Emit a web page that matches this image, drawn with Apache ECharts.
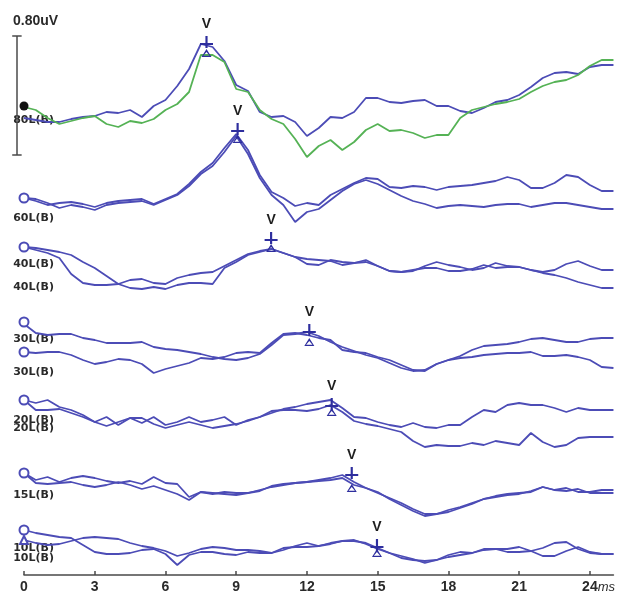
<!DOCTYPE html>
<html>
<head>
<meta charset="utf-8">
<title>ABR</title>
<script src="https://cdn.jsdelivr.net/npm/echarts@6/dist/echarts.min.js"></script>
<style>
  html, body { margin: 0; padding: 0; background: #fff; }
  #chart { width: 618px; height: 595px; }
</style>
</head>
<body>
<div id="chart"></div>
<script>
// time base (ms), one reading every 0.5 ms
const times = [0, 0.5, 1, 1.5, 2, 2.5, 3, 3.5, 4, 4.5, 5, 5.5, 6, 6.5, 7, 7.5, 8, 8.5, 9, 9.5,
  10, 10.5, 11, 11.5, 12, 12.5, 13, 13.5, 14, 14.5, 15, 15.5, 16, 16.5, 17, 17.5, 18, 18.5, 19, 19.5,
  20, 20.5, 21, 21.5, 22, 22.5, 23, 23.5, 24, 24.5, 25]

// trace readings on the display scale (downward), one list per sweep
const trace80Blue = [118, 120, 122, 122, 119, 117, 116, 112, 113, 110,
  117, 106, 100, 86, 69, 44, 47, 61, 85, 91,
  112, 117, 116, 122, 136, 128, 117, 118, 112, 98,
  98, 102, 103, 101, 100, 106, 106, 111, 113, 108,
  102, 100, 95, 87, 78, 73, 72, 74, 67, 65, 65]
const trace80Green = [107, 110, 118, 124, 121, 118, 116, 124, 127, 121,
  123, 119, 110, 104, 92, 55, 55, 62, 89, 92,
  110, 119, 124, 139, 157, 146, 140, 150, 142, 130,
  124, 131, 130, 133, 138, 135, 135, 118, 110, 107,
  104, 102, 99, 92, 86, 82, 80, 75, 66, 60, 60]
const trace60A = [198, 201, 205, 203, 202, 204, 207, 203, 201, 200,
  199, 204, 199, 194, 184, 172, 163, 148, 134, 150,
  175, 192, 198, 206, 203, 205, 195, 189, 183, 178,
  179, 187, 188, 186, 187, 190, 187, 186, 185, 183,
  181, 177, 180, 188, 188, 183, 175, 177, 185, 191, 191]
const trace60B = [198, 199, 203, 208, 205, 207, 210, 205, 203, 202,
  201, 205, 200, 195, 186, 174, 166, 152, 136, 154,
  178, 195, 205, 222, 212, 209, 200, 191, 184, 180,
  184, 190, 196, 201, 204, 208, 206, 205, 206, 207,
  205, 204, 204, 207, 205, 203, 203, 205, 207, 209, 209]
const trace40A = [247, 248, 250, 252, 255, 262, 268, 276, 284, 280,
  279, 283, 284, 278, 275, 273, 272, 266, 260, 254,
  251, 249, 253, 257, 264, 265, 260, 262, 263, 260,
  266, 271, 272, 271, 266, 262, 265, 267, 270, 268,
  263, 266, 267, 270, 272, 270, 264, 261, 266, 270, 270]
const trace40B = [247, 250, 253, 258, 274, 283, 285, 285, 284, 288,
  289, 287, 289, 285, 283, 283, 284, 268, 262, 255,
  252, 249, 253, 257, 259, 260, 261, 265, 263, 262,
  266, 271, 272, 270, 268, 268, 271, 271, 269, 265,
  268, 267, 267, 270, 273, 275, 278, 282, 285, 288, 288]
const trace30A = [324, 333, 335, 334, 334, 338, 340, 343, 343, 343,
  342, 347, 349, 350, 352, 354, 357, 359, 360, 358,
  354, 345, 335, 334, 332, 336, 342, 347, 351, 355,
  358, 363, 368, 371, 370, 364, 360, 356, 350, 346,
  345, 344, 342, 339, 338, 340, 342, 342, 339, 338, 338]
const trace30B = [352, 353, 352, 352, 355, 360, 364, 362, 359, 360,
  364, 373, 369, 366, 363, 358, 359, 357, 353, 352,
  353, 343, 334, 333, 335, 338, 340, 350, 352, 353,
  357, 360, 365, 370, 371, 364, 360, 358, 357, 355,
  354, 353, 353, 352, 356, 356, 355, 357, 360, 367, 368]
const trace20A = [400, 403, 400, 407, 410, 415, 422, 417, 425, 418,
  423, 417, 425, 422, 417, 422, 420, 417, 425, 420,
  417, 413, 409, 407, 404, 402, 400, 408, 417, 418,
  422, 425, 427, 423, 427, 428, 425, 425, 417, 410,
  412, 405, 403, 405, 405, 408, 412, 408, 410, 410, 410]
const trace20B = [400, 410, 410, 409, 413, 417, 422, 426, 422, 418,
  418, 424, 428, 425, 422, 425, 428, 426, 424, 421,
  417, 411, 410, 410, 411, 409, 405, 412, 421, 424,
  426, 429, 432, 441, 447, 445, 446, 446, 443, 445,
  441, 443, 445, 433, 442, 447, 445, 438, 437, 437, 437]
const trace15A = [473, 480, 477, 482, 478, 476, 478, 481, 483, 481,
  484, 477, 483, 484, 497, 492, 494, 492, 493, 493,
  491, 486, 484, 483, 482, 480, 478, 475, 482, 488,
  493, 498, 503, 509, 514, 514, 510, 507, 503, 499,
  497, 495, 494, 491, 487, 490, 488, 492, 492, 490, 490]
const trace15B = [473, 483, 484, 483, 482, 485, 487, 485, 482, 485,
  489, 486, 490, 494, 500, 492, 493, 494, 495, 493,
  490, 487, 485, 483, 482, 481, 480, 478, 485, 488,
  492, 499, 505, 511, 516, 514, 512, 508, 504, 499,
  496, 494, 493, 492, 487, 490, 491, 489, 493, 493, 493]
const trace10A = [530, 533, 535, 537, 538, 545, 552, 554, 554, 553,
  550, 549, 554, 565, 555, 552, 552, 554, 555, 552,
  553, 553, 548, 547, 547, 546, 543, 541, 541, 543,
  548, 553, 558, 560, 561, 560, 557, 555, 553, 550,
  549, 552, 552, 551, 548, 543, 542, 549, 553, 554, 554]
const trace10B = [540, 543, 545, 544, 541, 538, 537, 538, 539, 543,
  546, 548, 551, 556, 553, 549, 547, 548, 550, 550,
  551, 553, 550, 546, 543, 546, 544, 541, 540, 544,
  549, 553, 556, 559, 563, 560, 555, 552, 553, 549,
  549, 549, 547, 551, 556, 556, 551, 547, 552, 554, 554]

// wave V picks: latency (ms), level of the cursor on each sweep
const waveVLatency = [7.74, 9.06, 10.48, 12.1, 13.05, 13.9, 14.97]
const waveVCursorA = [42, 129, 238, 330, 404, 473, 545]
const waveVCursorB = [53, 139, 248, 342, 412, 488, 553]

// sweep labels and where they sit
const sweepLabels = ['80L(B)', '60L(B)', '40L(B)', '40L(B)', '30L(B)', '30L(B)', '20L(B)', '20L(B)', '15L(B)', '10L(B)', '10L(B)']
const sweepLabelLevel = [120, 218, 264, 287, 339, 372, 420, 428, 495, 548, 558]

// start-of-sweep markers
const startCircles = [198, 247, 322, 352, 400, 473, 530]
const startTriangles = [540]
const startDot = [106]

const tickValues = [0, 3, 6, 9, 12, 15, 18, 21, 24]
const tickUnit = 'ms'

// 0.80uV calibration bar
const calibLabel = '0.80uV'
const calibTop = 36
const calibBottom = 155

const blue = '#4c4cb6'
const green = '#55b255'
const dark = '#2a2a2a'

const chart = echarts.init(document.getElementById('chart'))

const traceSeries = (values, color, z) => ({
  type: 'line',
  data: times.map((t, i) => [t, values[i]]),
  symbol: 'none',
  showSymbol: false,
  clip: false,
  z: z || 2,
  lineStyle: { color: color, width: 1.8 }
})

const blueTraces = [trace80Blue, trace60A, trace60B, trace40A, trace40B, trace30A, trace30B,
  trace20A, trace20B, trace15A, trace15B, trace10A, trace10B]

const plusPath = 'path://M5,0h2v12h-2z M0,7h12v2h-12z'
const trianglePath = 'path://M6,0 L12,9 L0,9 Z M6,3.5 L2.2,7.6 L9.8,7.6 Z'

const option = {
  animation: false,
  textStyle: { fontFamily: 'Liberation Sans' },
  grid: { left: 24, right: 2, top: 0, bottom: 20 },
  xAxis: {
    type: 'value',
    position: 'bottom',
    min: 0,
    max: 25,
    interval: 3,
    splitLine: { show: false },
    axisLine: { onZero: false, lineStyle: { color: '#4a4a4a', width: 1.5 } },
    axisTick: { inside: true, length: 4, customValues: tickValues, lineStyle: { color: '#4a4a4a', width: 1.5 } },
    axisLabel: {
      customValues: tickValues,
      margin: 5,
      fontSize: 14,
      fontWeight: 'bold',
      color: dark,
      formatter: (v) => v === 24 ? '{pad|' + tickUnit + '}' + v + '{unit|' + tickUnit + '}' : String(v),
      rich: {
        unit: { fontSize: 13, fontStyle: 'italic', color: dark, fontWeight: 'normal' },
        pad: { fontSize: 13, fontStyle: 'italic', color: 'rgba(0,0,0,0)', fontWeight: 'normal' }
      }
    }
  },
  yAxis: { type: 'value', inverse: true, min: 0, max: 575, show: false },
  graphic: [{
    type: 'text',
    left: 13,
    top: 14,
    style: { text: calibLabel, font: 'bold 14px "Liberation Sans"', fill: dark }
  }],
  series: [
    // calibration bar
    {
      type: 'lines',
      coordinateSystem: 'cartesian2d',
      clip: false,
      silent: true,
      lineStyle: { color: '#4a4a4a', width: 1.5, opacity: 1 },
      data: [
        { coords: [[-0.3, calibTop], [-0.3, calibBottom]] },
        { coords: [[-0.5, calibTop], [-0.1, calibTop]] },
        { coords: [[-0.5, calibBottom], [-0.1, calibBottom]] }
      ]
    },
    // sweep labels
    {
      type: 'scatter',
      clip: false,
      symbolSize: 0,
      silent: true,
      z: 1,
      itemStyle: { opacity: 1 },
      data: sweepLabels.map((s, i) => [-0.46, sweepLabelLevel[i], s]),
      label: {
        show: true,
        position: 'right',
        distance: 0,
        formatter: (p) => p.value[2],
        fontFamily: 'DejaVu Sans',
        fontSize: 11,
        fontWeight: 'bold',
        color: dark
      }
    },
    ...blueTraces.map((v) => traceSeries(v, blue, 2)),
    traceSeries(trace80Green, green, 3),
    // start markers
    {
      type: 'scatter',
      clip: false,
      symbol: 'emptyCircle',
      symbolSize: 9,
      z: 4,
      itemStyle: { color: blue, borderWidth: 1.5, opacity: 1 },
      data: startCircles.map((y) => [0, y])
    },
    {
      type: 'scatter',
      clip: false,
      symbol: 'emptyTriangle',
      symbolSize: 8,
      z: 4,
      itemStyle: { color: blue, borderWidth: 1.5, opacity: 1 },
      data: startTriangles.map((y) => [0, y])
    },
    {
      type: 'scatter',
      clip: false,
      symbol: 'circle',
      symbolSize: 9,
      z: 5,
      itemStyle: { color: '#111', opacity: 1 },
      data: startDot.map((y) => [0, y])
    },
    // wave V cursors
    {
      type: 'scatter',
      symbol: plusPath,
      symbolSize: [13, 12],
      z: 6,
      itemStyle: { color: '#2e2e9e', opacity: 1 },
      data: waveVLatency.map((t, i) => [t, waveVCursorA[i]]),
      label: {
        show: true,
        position: 'top',
        distance: 5,
        formatter: 'V',
        fontSize: 14,
        fontWeight: 'bold',
        color: '#1e1e1e'
      }
    },
    {
      type: 'scatter',
      symbol: trianglePath,
      symbolSize: [10, 8],
      z: 6,
      itemStyle: { color: '#2e2e9e', opacity: 1 },
      data: waveVLatency.map((t, i) => [t, waveVCursorB[i]])
    }
  ]
}

chart.setOption(option)
</script>
</body>
</html>
